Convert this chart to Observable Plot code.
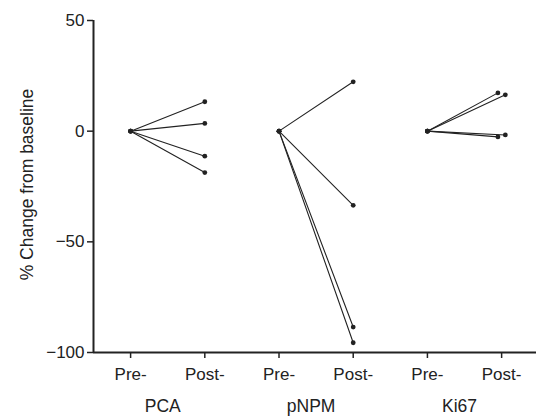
<!DOCTYPE html>
<html>
<head>
<meta charset="utf-8">
<script src="https://cdn.jsdelivr.net/npm/d3@7"></script>
<script src="https://cdn.jsdelivr.net/npm/@observablehq/plot@0.6"></script>
<style>
  html, body { margin: 0; padding: 0; background: #fff; }
  svg { display: block; }
</style>
</head>
<body>
<div id="chart"></div>
<script>
// ---- data ----
const groups = ["PCA", "pNPM", "Ki67"];
const timeLabels = ["Pre-", "Post-"];
const preValues = [0, 0, 0];               // baseline for every subject
const pcaPost  = [13.3, 3.5, -11.3, -18.7];
const pnpmPost = [22.3, -33.5, -88.5, -95.6];
const ki67Post = [17.3, 16.4, -2.6, -1.7];
const ki67PostJitter = [-0.05, 0.05, -0.05, 0.05]; // slight horizontal spread of Post- dots
const yTicks = [50, 0, -50, -100];

const postByGroup = [pcaPost, pnpmPost, ki67Post];
const jitterByGroup = [[0,0,0,0],[0,0,0,0], ki67PostJitter];

// build table: one row per subject per timepoint
const rows = [];
groups.forEach((g, gi) => {
  postByGroup[gi].forEach((v, si) => {
    const id = g + "-" + si;
    rows.push({id, group: g, pos: gi * 2, value: preValues[gi]});
    rows.push({id, group: g, pos: gi * 2 + 1 + jitterByGroup[gi][si], value: v});
  });
});
const tickPositions = d3.range(groups.length * 2);
const tickText = tickPositions.map(i => timeLabels[i % 2]);
const groupLabels = groups.map((g, gi) => ({group: g, pos: gi * 2 + 0.5}));

const ink = "#222";
const font = "Liberation Sans, Arial, Helvetica, sans-serif";

const chart = Plot.plot({
  width: 536,
  height: 416,
  marginLeft: 93,
  marginRight: 0,
  marginTop: 20,
  marginBottom: 64,
  style: {fontFamily: font, fontSize: "17px", color: ink, background: "#fff"},
  x: {domain: [-0.5, 5.47], axis: null},
  y: {domain: [-100, 50], axis: null},
  marks: [
    Plot.axisY({ticks: yTicks, tickSize: 6, tickPadding: 3, tickFormat: d => d < 0 ? "\u2212" + Math.abs(d) : String(d), label: null, stroke: ink, strokeWidth: 1.5, fontSize: 17}),
    Plot.axisX({ticks: tickPositions, tickSize: 6, tickPadding: 9, tickFormat: d => tickText[d], label: null, stroke: ink, strokeWidth: 1.5, fontSize: 17}),
    Plot.ruleX([-0.5], {y1: -100, y2: 50, stroke: ink, strokeWidth: 2}),
    Plot.ruleY([-100], {stroke: ink, strokeWidth: 2}),
    Plot.line(rows, {x: "pos", y: "value", z: "id", stroke: ink, strokeWidth: 1.1}),
    Plot.dot(rows, {x: "pos", y: "value", r: 2.4, fill: ink, stroke: null}),
    Plot.text(groupLabels, {x: "pos", y: () => -100, text: "group", dy: 54, dx: -5, fontSize: 17.5, fill: ink, lineAnchor: "middle"}),
    Plot.text(["% Change from baseline"], {frameAnchor: "left", textAnchor: "middle", rotate: -90, dx: -66, dy: -2, fontSize: 17.5, fill: ink})
  ]
});
document.getElementById("chart").appendChild(chart);
</script>
</body>
</html>
